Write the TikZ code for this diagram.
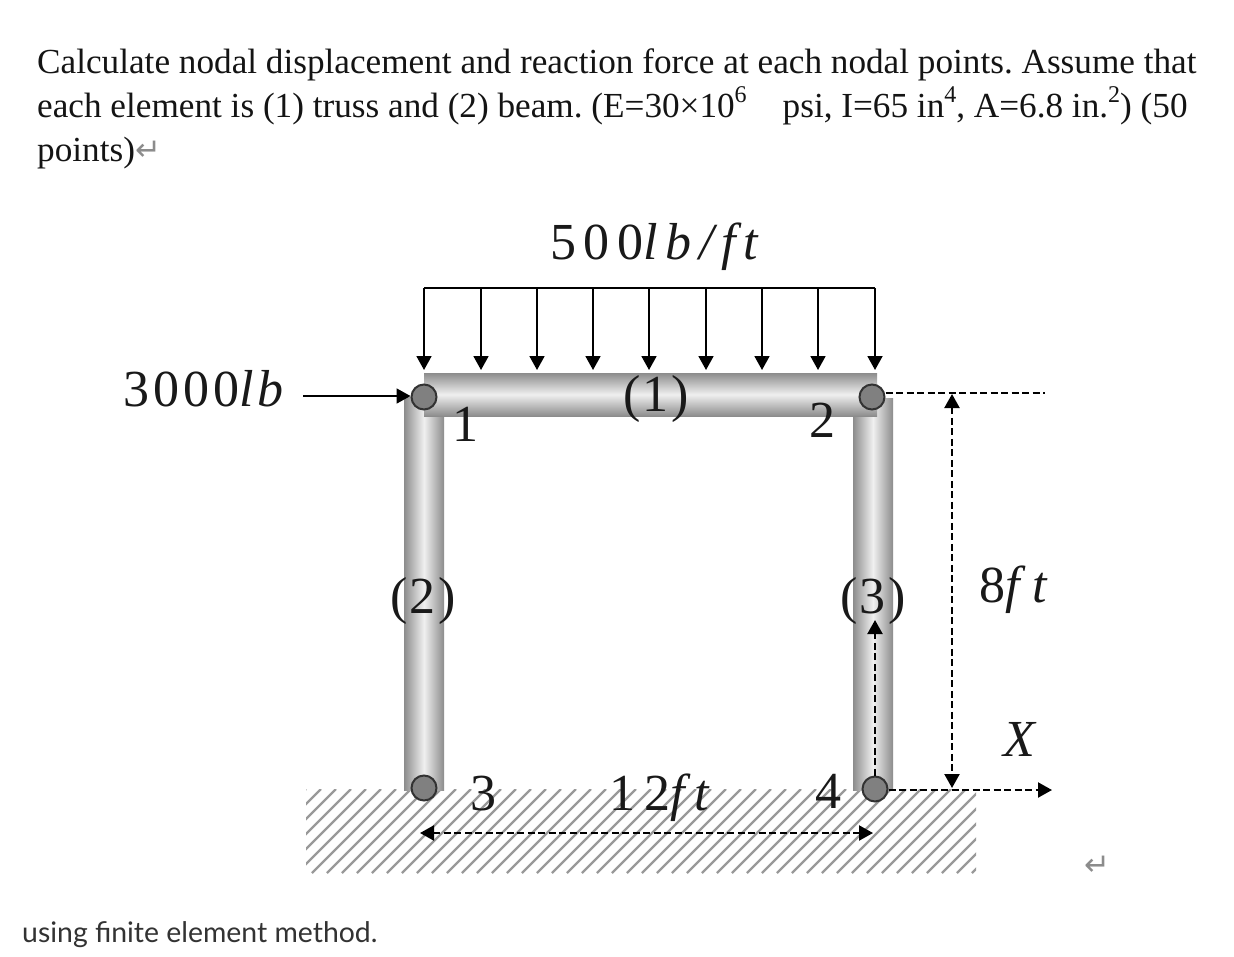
\documentclass[tikz,border=0pt]{standalone}
\usepackage{fontspec}
\usetikzlibrary{arrows.meta}
\newfontfamily\tnr{Liberation Serif}
\newfontfamily\lato{Lato}
\newfontfamily\dej{DejaVu Sans}
\newcommand{\supr}[1]{\raisebox{0.42em}{\fontsize{24}{24}\selectfont #1}}
\newcommand{\itl}[1]{{\itshape #1}}
\newcommand{\trk}[1]{\addfontfeature{LetterSpace=#1}}
\definecolor{nodegray}{gray}{0.5}
\definecolor{hatchgray}{gray}{0.6}
\tikzset{
  x=1pt,y=-1pt,
  para/.style={inner sep=0pt,anchor=base west,font=\tnr\fontsize{35.2}{35.2}\selectfont,text=black!92},
  lab/.style={inner sep=0pt,font=\tnr\fontsize{52}{52}\selectfont,text=black!90},
  dimlab/.style={inner sep=0pt,font=\tnr\fontsize{52}{52}\selectfont,text=black!90},
  joint/.style={circle,draw=black!80,line width=2pt,fill=nodegray,minimum size=25pt,inner sep=0pt},
  beamh/.style={top color=black!45,bottom color=black!45,middle color=black!6,draw=none},
  beamv/.style={left color=black!45,right color=black!45,middle color=black!6,draw=none},
  tip/.style={-{Triangle[length=14pt,width=15pt]}},
  load/.style={line width=1.8pt,tip},
  dim/.style={line width=2.2pt,dash pattern=on 7pt off 3.5pt},
  retmark/.style={inner sep=0pt,text=black!45,font=\dej\fontsize{31}{31}\selectfont}
}
\begin{document}
\begin{tikzpicture}
\frenchspacing
\useasboundingbox (0,0) rectangle (1234,956);
\fill[white] (0,0) rectangle (1234,956);
% text
\node[para] (t1) at (37,73) {Calculate nodal displacement and reaction force at each nodal points. Assume that};
\node[para] (t2) at (37,117) {each element is (1) truss and (2) beam. (E=30×10\supr{6}\hspace{36pt}psi, I=65 in\supr{4}, A=6.8 in.\supr{2}) (50};
\node[para] (t3) at (37,161) {points)};
\node[retmark,anchor=base west] (r1) at (135,160) {↵};
\node[retmark] (r2) at (1097,866) {↵};
\node[inner sep=0pt,anchor=base west,font=\lato\fontsize{28.4}{28.4}\selectfont,text=black!80] (t4) at (22,942) {using finite element method.};
% ground hatch
\begin{scope}
\clip (306,789) rectangle (976,873);
\foreach \i in {0,...,52}{
  \draw[hatchgray,line width=2.4pt] ({222+15*\i},873) -- ++(84,-84);
}
\end{scope}
% beams
\shade[beamv] (404,397) rectangle (444,790);
\shade[beamv] (853,398) rectangle (893,790);
\shade[beamh] (424,373) rectangle (877,416);
% coordinates
\coordinate (ll) at (424,288);
\coordinate (lr) at (875,288);
\foreach \n/\x in {a/424,b/481,c/537,d/593,e/649,f/706,g/762,h/818,i/875}{
  \coordinate (top\n) at (\x,288);
  \coordinate (bot\n) at (\x,370);
  \draw[load] (top\n) -- (bot\n);
}
\draw[line width=1.8pt] (ll) -- (lr);
% joints
\node[joint] (n1) at (424,397) {};
\node[joint] (n2) at (872,397) {};
\node[joint] (n3) at (424,788) {};
\node[joint] (n4) at (875,789) {};
% force
\node[dimlab,anchor=base] (f) at (204,406) {\trk{7.5}3000\itl{lb}};
\coordinate (fs) at (303,396);
\draw[load] (fs) -- (n1.west |- fs);
% dimension lines
\coordinate (up) at (1045,393);
\draw[dim] (n2.east |- up) -- (up);
\coordinate (xe) at (1052,790);
\draw[dim,tip] (n4.east |- xe) -- (xe);
\coordinate (h1) at (952,394);
\coordinate (h2) at (952,788);
\draw[dim,{Triangle[length=14pt,width=15pt]}-{Triangle[length=14pt,width=15pt]}] (h1) -- (h2);
\coordinate (w1) at (420,833);
\coordinate (w2) at (873,833);
\draw[dim,{Triangle[length=14pt,width=15pt]}-{Triangle[length=14pt,width=15pt]}] (w1) -- (w2);
\coordinate (v1) at (875,620);
\draw[dim,tip] (n4.north) -- (v1);
% labels
\node[dimlab,anchor=base] (l500) at (654,259) {\trk{14.5}500\itl{lb/ft}};
\node[lab,anchor=base] (e1) at (656,411) {\trk{5}(1)};
\node[lab,anchor=base] (e2) at (423,613) {\trk{5}(2)};
\node[lab,anchor=base] (e3) at (873,613) {\trk{5}(3)};
\node[lab,anchor=base] (p1) at (465,441) {1};
\node[lab,anchor=base] (p2) at (822,437) {2};
\node[lab,anchor=base] (p3) at (483,810) {3};
\node[lab,anchor=base] (p4) at (828,808) {4};
\node[lab,anchor=base] (d12) at (659,810) {\trk{18}12\itl{ft}};
\node[dimlab,anchor=base] (d8) at (1013,602) {\trk{24}8\itl{ft}};
\node[dimlab,anchor=base] (dx) at (1019,756) {\itl{X}};
\end{tikzpicture}
\end{document}
